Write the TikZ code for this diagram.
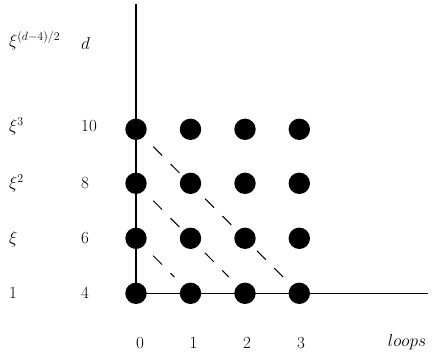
\documentclass[tikz,border=0pt]{standalone}
\usetikzlibrary{backgrounds}
\begin{document}
\begin{tikzpicture}[x=1pt,y=-1pt,
  dot/.style={circle,fill=black,inner sep=0pt,minimum size=21.4pt},
  lab/.style={inner sep=0pt,anchor=base west,font=\fontsize{17}{20}\selectfont},
  xlab/.style={inner sep=0pt,anchor=base,font=\fontsize{17}{20}\selectfont},
  axis/.style={line width=1.2pt},
  diag/.style={line width=1pt,dash pattern=on 12.5pt off 12pt}]
\useasboundingbox (0,0) rectangle (436,353);
% dots
\foreach \i/\x in {0/136,1/190.5,2/245,3/299.3}{
  \foreach \j/\y in {0/293.3,1/238.3,2/183.3,3/129.3}{
    \node[dot] (p\i\j) at (\x,\y) {};
  }
}
\coordinate (top) at (136,4);
\coordinate (right) at (428,293.3);
\begin{scope}[on background layer]
\draw[axis] (top) -- (p00.center) -- (right);
\draw[diag,shorten <=24.5pt,shorten >=23pt] (p03.center) -- (p30.center);
\draw[diag,shorten <=24.5pt,shorten >=23pt] (p02.center) -- (p20.center);
\draw[diag,shorten <=24.5pt,shorten >=23pt] (p01.center) -- (p10.center);
\end{scope}
% left labels
\node[lab] (xd) at (9,47) {$\xi^{(d-4)/2}$};
\node[lab] (dd) at (81,49) {$d$};
\node[lab] (x3) at (9,131.7) {$\xi^3$};
\node[lab] (n10) at (81,131.7) {10};
\node[lab] (x2) at (9,188.3) {$\xi^2$};
\node[lab] (n8) at (81,188.3) {8};
\node[lab] (x1) at (9,243.3) {$\xi$};
\node[lab] (n6) at (81,243.3) {6};
\node[lab] (x0) at (9,298.3) {1};
\node[lab] (n4) at (81,298.3) {4};
% bottom labels
\node[xlab] (l0) at (140,348) {0};
\node[xlab] (l1) at (193.5,348) {1};
\node[xlab] (l2) at (247,348) {2};
\node[xlab] (l3) at (301,348) {3};
\node[xlab] (lp) at (407,346) {$loops$};
\end{tikzpicture}
\end{document}
